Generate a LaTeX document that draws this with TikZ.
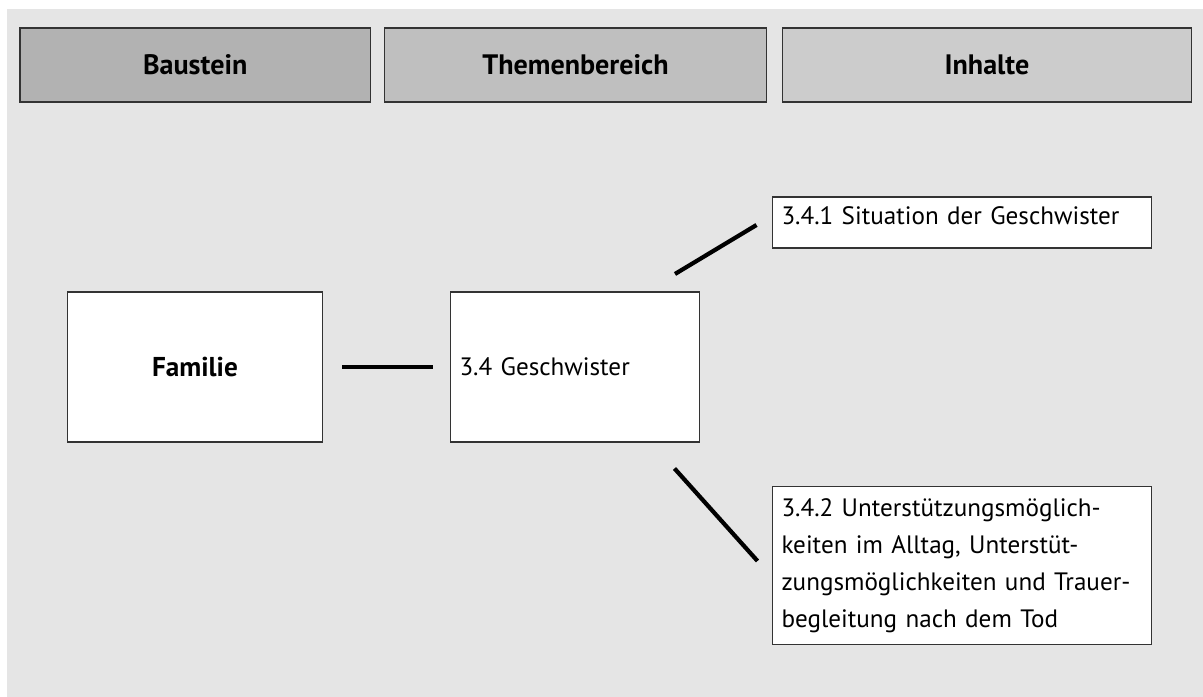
\documentclass[tikz,border=0pt]{standalone}
\usepackage{fontspec}
\setmainfont{PT Sans}
\usepackage{tikz}

\begin{document}
\begin{tikzpicture}
  [kopf/.style={draw=black!80,line width=0.7pt,inner sep=0pt,minimum height=1.48cm,
                font=\fontsize{16}{19}\selectfont\bfseries},
   feld/.style={draw=black!80,fill=white,line width=0.7pt,font=\fontsize{14.3}{18}\selectfont},
   linie/.style={line width=2.4pt},
  ]
  \useasboundingbox (0,0) rectangle (24.06,13.94);
  \fill[black!10] (0.14,0) rectangle (24.06,13.76);

  \node[kopf,fill=black!30,minimum width=7.01cm] (bau) at (3.905,12.64) {Baustein};
  \node[kopf,fill=black!25,minimum width=7.64cm] (thema) at (11.51,12.64) {Themenbereich};
  \node[kopf,fill=black!20,minimum width=8.18cm] (inh) at (19.74,12.64) {Inhalte};

  \node[feld,minimum width=5.1cm,minimum height=3cm,font=\fontsize{15.5}{18}\selectfont\bfseries] (fam) at (3.9,6.6) {Familie};
  \node[feld,minimum height=3cm,text width=4.62cm,align=left,inner xsep=0.18cm] (gesch) at (11.5,6.6) {3.4 Geschwister};

  \node[feld,text width=7.22cm,align=left,inner xsep=0.18cm,inner ysep=0.1cm,
        text height=0.46cm,text depth=0.36cm] (sit) at (19.24,9.49) {3.4.1 Situation der Geschwister};
  \node[feld,text width=7.22cm,align=left,inner xsep=0.18cm,minimum height=3.15cm,
        font=\fontsize{14.3}{21}\selectfont] (unt) at (19.24,2.63)
    {3.4.2 Unterstützungsmöglich-\\keiten im Alltag, Unterstüt-\\zungsmöglichkeiten und Trauer-\\begleitung nach dem Tod};

  \coordinate (o1) at (13.5,8.46);
  \coordinate (o2) at (15.13,9.44);
  \coordinate (u1) at (13.49,4.57);
  \coordinate (u2) at (15.15,2.72);

  \draw[linie,shorten <=0.38cm,shorten >=0.33cm] (fam) -- (gesch);
  \draw[linie] (o1) -- (o2);
  \draw[linie] (u1) -- (u2);
\end{tikzpicture}
\end{document}
